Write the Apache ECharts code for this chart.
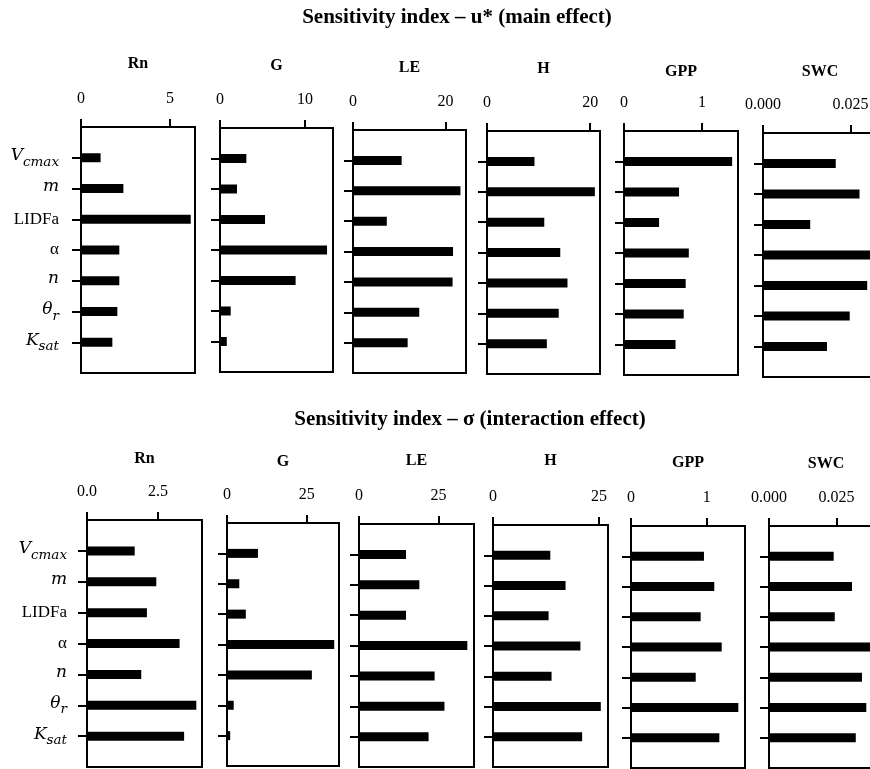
<!DOCTYPE html>
<html><head><meta charset="utf-8">
<script src="https://cdn.jsdelivr.net/npm/echarts@6/dist/echarts.min.js"></script>
<style>html,body{margin:0;padding:0;background:#fff;overflow:hidden}#c{width:890px;height:769px}</style>
</head><body><div id="c"></div>
<script>
// ---- data ----
const variables = ['Rn', 'G', 'LE', 'H', 'GPP', 'SWC'];
const parameters = ['Vcmax', 'm', 'LIDFa', 'α', 'n', 'θr', 'Ksat'];

// main effect (u*)
const mainRn  = [1.1, 2.38, 6.16, 2.15, 2.15, 2.04, 1.76];
const mainG   = [3.1, 2.0, 5.3, 12.6, 8.9, 1.26, 0.8];
const mainLE  = [10.5, 23.2, 7.3, 21.6, 21.5, 14.3, 11.8];
const mainH   = [9.2, 20.9, 11.1, 14.2, 15.6, 13.9, 11.6];
const mainGPP = [1.385, 0.705, 0.449, 0.83, 0.79, 0.765, 0.66];
const mainSWC = [0.0208, 0.0276, 0.0135, 0.0315, 0.0298, 0.0248, 0.0183];

// interaction effect (sigma)
const interRn  = [1.68, 2.44, 2.11, 3.26, 1.91, 3.85, 3.42];
const interG   = [9.7, 3.85, 5.9, 33.6, 26.6, 2.1, 1.0];
const interLE  = [14.8, 19.0, 14.8, 34.1, 23.8, 26.9, 21.9];
const interH   = [13.5, 17.1, 13.1, 20.6, 13.8, 25.4, 21.0];
const interGPP = [0.964, 1.10, 0.92, 1.198, 0.855, 1.418, 1.167];
const interSWC = [0.0240, 0.0308, 0.0244, 0.039, 0.0345, 0.0361, 0.0322];

// axis ticks and tick labels
const mainTicks = [[0, 5], [0, 10], [0, 20], [0, 20], [0, 1], [0, 0.025]];
const mainTickLabels = [['0', '5'], ['0', '10'], ['0', '20'], ['0', '20'], ['0', '1'], ['0.000', '0.025']];
const mainMax = [6.4, 13.3, 24.4, 21.9, 1.46, 0.0326];
const interTicks = [[0, 2.5], [0, 25], [0, 25], [0, 25], [0, 1], [0, 0.025]];
const interTickLabels = [['0.0', '2.5'], ['0', '25'], ['0', '25'], ['0', '25'], ['0', '1'], ['0.000', '0.025']];
const interMax = [4.05, 35.1, 36.2, 27.1, 1.506, 0.0423];

const mainTitle = 'Sensitivity index – u* (main effect)';
const interTitle = 'Sensitivity index – σ (interaction effect)';

// ---- layout (pixels) ----
const gridsTop = [[81,127,114,246],[220,128,113,244],[353,130,113,243],[487,131,113,243],[624,131,114,244],[763,133,114,244]];
const gridsBot = [[87,520,115,247],[227,523,112,243],[359,524,115,243],[493,525,115,242],[631,526,114,242],[769,526,114,242]];
const titleYTop = [64, 66, 68, 69, 72, 72];
const titleYBot = [459, 462, 461, 461, 463, 464];

const labelRich = {
  'Vcmax': '{i|V}{s|cmax}', 'm': '{i|m}', 'LIDFa': '{r|LIDFa}', 'α': '{r|α}',
  'n': '{i|n}', 'θr': '{i|θ}{s|r}', 'Ksat': '{i|K}{s|sat}'
};
const richStyles = {
  i: { fontFamily: 'DejaVu Serif', fontStyle: 'italic', fontSize: 17, color: '#000', padding: [0, 0, 4, 0] },
  s: { fontFamily: 'DejaVu Serif', fontStyle: 'italic', fontSize: 13.5, color: '#000', padding: [9, 0, 0, 0] },
  r: { fontFamily: 'Liberation Serif', fontSize: 17, color: '#000' }
};

const padded = ['', ...parameters, ''];
const serif = 'Liberation Serif';

const grids = [], xAxes = [], yAxes = [], series = [];
function addRow(values, grids_, ticks, tickLabels, maxes, titleYs, labelMargin) {
  values.forEach((vals, j) => {
    const k = grids.length;
    const g = grids_[j];
    grids.push({ left: g[0], top: g[1], width: g[2], height: g[3], show: true,
      borderColor: '#000', borderWidth: 2, containLabel: false });
    const tv = ticks[j], tl = tickLabels[j];
    xAxes.push({
      type: 'value', gridIndex: k, position: 'top', min: 0, max: maxes[j],
      name: variables[j], nameLocation: 'middle', nameGap: g[1] - titleYs[j] - 8,
      nameTextStyle: { fontFamily: serif, fontWeight: 'bold', fontSize: 16, color: '#000' },
      axisLine: { show: true, onZero: false, lineStyle: { color: '#000', width: 2 } },
      axisTick: { show: true, customValues: tv, length: 8, lineStyle: { color: '#000', width: 2 } },
      axisLabel: { customValues: tv, margin: 20, fontFamily: serif, fontSize: 16, color: '#000',
        formatter: v => { const idx = tv.findIndex(t => Math.abs(t - v) < 1e-9); return idx >= 0 ? tl[idx] : ''; } },
      splitLine: { show: false }
    });
    yAxes.push({
      type: 'category', gridIndex: k, inverse: true, boundaryGap: false, data: padded,
      axisLine: { show: true, lineStyle: { color: '#000', width: 2 } },
      axisTick: { show: true, length: 9, interval: (i, v) => v !== '', lineStyle: { color: '#000', width: 2 } },
      axisLabel: { show: j === 0, interval: 0, margin: labelMargin,
        formatter: v => labelRich[v] || '', rich: richStyles },
      splitLine: { show: false }
    });
    series.push({
      type: 'bar', xAxisIndex: k, yAxisIndex: k, barWidth: 9, silent: true,
      itemStyle: { color: '#000' },
      data: ['-', ...vals, '-']
    });
  });
}
addRow([mainRn, mainG, mainLE, mainH, mainGPP, mainSWC], gridsTop, mainTicks, mainTickLabels, mainMax, titleYTop, 22);
addRow([interRn, interG, interLE, interH, interGPP, interSWC], gridsBot, interTicks, interTickLabels, interMax, titleYBot, 20);

const chart = echarts.init(document.getElementById('c'), null, { renderer: 'canvas' });
chart.setOption({
  animation: false,
  backgroundColor: '#fff',
  grid: grids, xAxis: xAxes, yAxis: yAxes, series: series,
  graphic: [
    { type: 'text', x: 457, y: 18, style: { text: mainTitle, align: 'center', verticalAlign: 'middle',
      fontFamily: serif, fontWeight: 'bold', fontSize: 21, fill: '#000' } },
    { type: 'text', x: 470, y: 420, style: { text: interTitle, align: 'center', verticalAlign: 'middle',
      fontFamily: serif, fontWeight: 'bold', fontSize: 21, fill: '#000' } }
  ]
});
</script></body></html>
